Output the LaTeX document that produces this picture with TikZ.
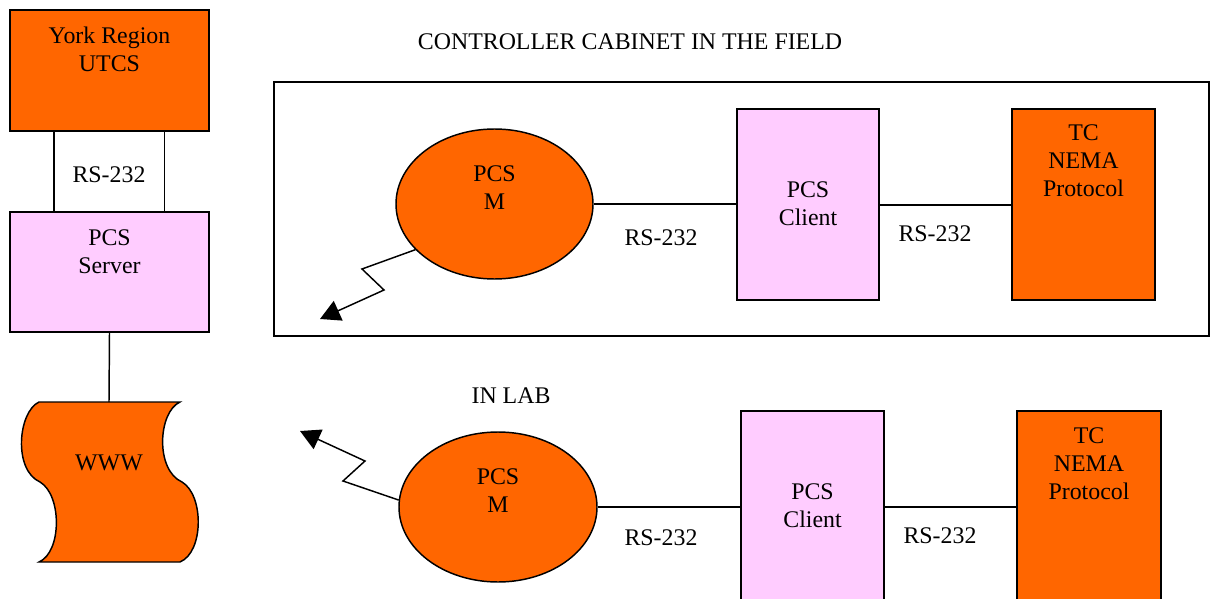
\documentclass[tikz,border=0pt]{standalone}
\usepackage{fontspec}
\setmainfont{Liberation Serif}
\usetikzlibrary{arrows.meta,shapes.geometric}
\definecolor{orng}{RGB}{255,102,0}
\definecolor{pinkbox}{RGB}{255,204,255}
\begin{document}
\begin{tikzpicture}[x=0.75pt,y=-0.75pt,
  every node/.style={font=\fontsize{17.9}{21}\selectfont},
  txt/.style={align=center,inner sep=0pt},
  obox/.style={draw=black,line width=1.1pt,fill=orng,inner sep=0pt},
  pbox/.style={draw=black,line width=1.1pt,fill=pinkbox,inner sep=0pt},
  mell/.style={ellipse,draw=black,line width=1.1pt,fill=orng,inner sep=0pt},
  wire/.style={draw=black,line width=1.1pt},
  bolt/.style={draw=black,line width=1.1pt,-{Triangle[length=15pt,width=16pt]}}]
\useasboundingbox (0,0) rectangle (1210,599);

% left column
\node[obox,minimum width=149.25pt,minimum height=90.75pt] (york) at (109.5,70.5) {};
\node[txt] (yorkt) at (109.5,49.5) {York Region\\UTCS};
\node[pbox,minimum width=149.25pt,minimum height=90pt] (server) at (109.5,272) {};
\node[txt] (servert) at (109.5,251.5) {PCS\\Server};
\node[txt] (rs0) at (109,175) {RS-232};
\draw[wire] ([xshift=-41.6pt]york.south) -- ([xshift=-41.6pt]server.north);
\draw[wire] ([xshift=41.25pt]york.south) -- ([xshift=41.25pt]server.north);

% WWW punched-tape shape
\coordinate (wwwtop) at (109,402);
\path[draw=black,line width=1.1pt,fill=orng]
  (39,402) -- (180,402)
  .. controls (158,412) and (155,470) .. (182,482)
  .. controls (204,495) and (204,552) .. (180,562)
  -- (39,562)
  .. controls (62,552) and (62,495) .. (40,482)
  .. controls (13,470) and (18,412) .. (39,402) -- cycle;
\node[txt] (www) at (109,463) {WWW};
\draw[wire] (server.south) -- (wwwtop);

% controller cabinet
\node[txt] (title) at (630,42) {CONTROLLER CABINET IN THE FIELD};
\node[draw=black,line width=1.1pt,minimum width=701.25pt,minimum height=190.5pt,inner sep=0pt] (cab) at (741.5,209) {};
\node[mell,minimum width=147.75pt,minimum height=112.5pt] (m1) at (494.5,204) {};
\node[txt] (m1t) at (494.5,187.5) {PCS\\M};
\node[pbox,minimum width=106.5pt,minimum height=143.25pt] (client1) at (808,204.5) {};
\node[txt] (client1t) at (808,203.5) {PCS\\Client};
\node[obox,minimum width=107.25pt,minimum height=143.25pt] (tc1) at (1083.5,204.5) {};
\node[txt] (tc1t) at (1083.5,161) {TC\\NEMA\\Protocol};
\draw[wire] (m1.east) -- (m1.east -| client1.west);
\draw[wire] (client1.east |- 0,205) -- (tc1.west |- 0,205);
\node[txt] (rs1) at (661,238) {RS-232};
\node[txt] (rs2) at (935,234) {RS-232};
\coordinate (l1a) at (362,269);
\coordinate (l1b) at (384,290);
\coordinate (l1tip) at (320,319);
\draw[bolt] (m1.210.6) -- (l1a) -- (l1b) -- (l1tip);

% in lab
\node[txt] (lab) at (511,396) {IN LAB};
\node[mell,minimum width=148.5pt,minimum height=112.5pt] (m2) at (498,507) {};
\node[txt] (m2t) at (498,490.5) {PCS\\M};
\node[pbox,minimum width=107.25pt,minimum height=171.75pt] (client2) at (812.5,525.5) {};
\node[txt] (client2t) at (812.5,505.5) {PCS\\Client};
\node[obox,minimum width=108pt,minimum height=171.75pt] (tc2) at (1089,525.5) {};
\node[txt] (tc2t) at (1089,464) {TC\\NEMA\\Protocol};
\draw[wire] (m2.east) -- (m2.east -| client2.west);
\draw[wire] (client2.east |- m2.east) -- (tc2.west |- m2.east);
\node[txt] (rs3) at (661,538) {RS-232};
\node[txt] (rs4) at (940,536) {RS-232};
\coordinate (l2a) at (343,481);
\coordinate (l2b) at (365,461);
\coordinate (l2tip) at (300,431);
\draw[bolt] (m2.176.6) -- (l2a) -- (l2b) -- (l2tip);
\end{tikzpicture}
\end{document}
